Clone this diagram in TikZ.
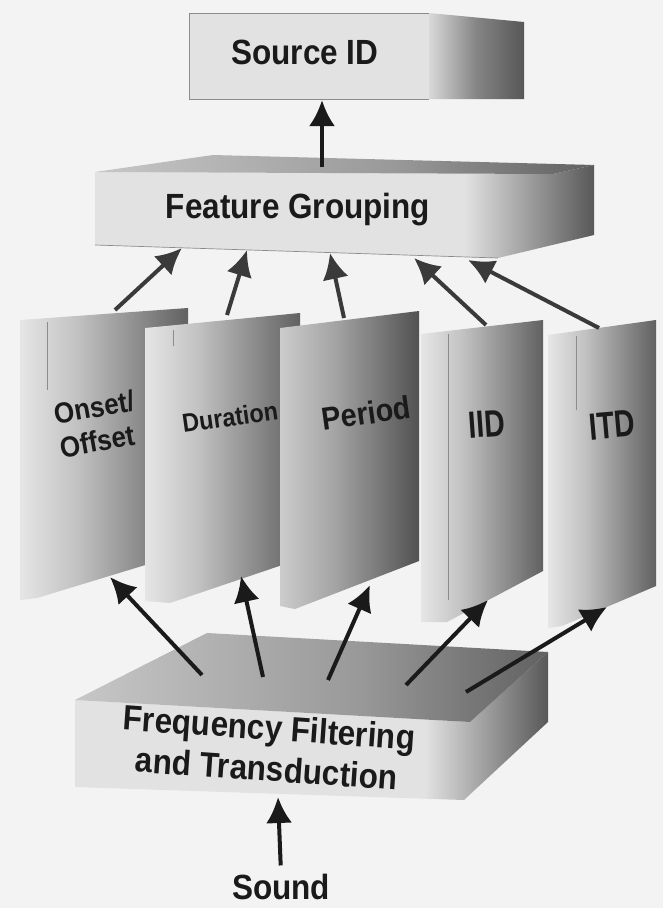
\documentclass[tikz,border=0pt]{standalone}
\usepackage{fontspec}
\setmainfont{Liberation Sans}
\newfontfamily\labelfont[FakeStretch=0.9]{Liberation Sans}
\newfontfamily\tallfont[FakeStretch=0.75]{Liberation Sans}
\usetikzlibrary{arrows.meta, calc}

\definecolor{bgGray}{RGB}{243,243,243}
\definecolor{faceLight}{RGB}{226,226,226}
\definecolor{faceDark}{RGB}{88,88,88}
\definecolor{arrowGray}{RGB}{58,58,58}
\definecolor{inkBlack}{RGB}{26,26,26}

\pgfdeclarehorizontalshading{boxFront}{100bp}{color(0bp)=(faceLight); color(25bp)=(faceLight); color(62bp)=(faceLight); color(75bp)=(faceDark); color(100bp)=(faceDark)}
\pgfdeclarehorizontalshading{sideFace}{100bp}{color(0bp)=(black!15); color(25bp)=(black!15); color(50bp)=(black!48); color(75bp)=(black!66); color(100bp)=(black!66)}
\pgfdeclarehorizontalshading{panelFace}{100bp}{color(0bp)=(black!10); color(25bp)=(black!10); color(42bp)=(black!24); color(75bp)=(black!62); color(100bp)=(black!62)}
\pgfdeclarehorizontalshading{panelDark}{100bp}{color(0bp)=(black!20); color(25bp)=(black!20); color(45bp)=(black!36); color(75bp)=(black!68); color(100bp)=(black!68)}
\pgfdeclarehorizontalshading{topFace}{100bp}{color(0bp)=(black!22); color(25bp)=(black!22); color(55bp)=(black!40); color(75bp)=(black!62); color(100bp)=(black!62)}

\tikzstyle{boxLabel}=[font={\labelfont\bfseries\fontsize{35}{41}\selectfont}, text=inkBlack, align=center, inner sep=0pt]
\tikzstyle{panelLabel}=[font={\labelfont\bfseries}, text=inkBlack, align=left, inner sep=0pt]
\tikzstyle{featArrow}=[line width=4pt, color=arrowGray, -{Latex[length=26pt,width=26pt]}]
\tikzstyle{inputArrow}=[line width=4pt, color=inkBlack, -{Latex[length=26pt,width=26pt]}]
\tikzstyle{edgeLine}=[line width=0.7pt, color=black!45]

\begin{document}
\begin{tikzpicture}[x=1pt, y=-1pt]
    \useasboundingbox (0,0) rectangle (663,908);
    \fill[bgGray] (0,0) rectangle (663,908);

    % Source ID box
    \fill[faceLight] (189,13) rectangle (429,99);
    \draw[edgeLine] (429,13) -- (189,13) -- (189,99) -- (429,99);
    \shade[shading=sideFace] (429,13) -- (524,22) -- (524,99) -- (429,99) -- cycle;
    \node[boxLabel] (srcId) at (305,52) {Source ID};

    % Feature Grouping box
    \shade[shading=boxFront] (95,172) -- (553,174) -- (594,165) -- (594,235) -- (498,258) -- (95,245) -- cycle;
    \shade[shading=topFace] (95,172) -- (213,155) -- (594,165) -- (553,174) -- cycle;
    \draw[edgeLine] (95,245) -- (498,258);
    \node[boxLabel] (featGroup) at (298,210) {Feature Grouping};

    % Feature panels
    \shade[shading=panelFace] (20,320) -- (188,308) -- (188,552) -- (37,598) -- (20,600) -- cycle;
    \draw[edgeLine] (47,322) -- (47,390);
    \node[panelLabel, font={\labelfont\bfseries\fontsize{29}{34}\selectfont}, rotate=10] (onset) at (97,424) {Onset/\\Offset};
    \shade[shading=panelFace] (145,328) -- (300,313) -- (300,559) -- (170,603) -- (145,601) -- cycle;
    \draw[edgeLine] (173,330) -- (173,346);
    \node[panelLabel, font={\labelfont\bfseries\fontsize{26}{30}\selectfont}, rotate=8] (duration) at (230,417) {Duration};
    \shade[shading=panelDark] (280,328) -- (419,311) -- (419,561) -- (295,609) -- (280,606) -- cycle;
    \node[panelLabel, font={\labelfont\bfseries\fontsize{32}{36}\selectfont}, rotate=8] (period) at (366,413) {Period};
    \shade[shading=panelFace] (421,334) -- (543,320) -- (543,571) -- (447,622) -- (421,622) -- cycle;
    \draw[edgeLine] (448,334) -- (448,600);
    \node[panelLabel, font={\tallfont\bfseries\fontsize{38}{40}\selectfont}, rotate=4] (iid) at (487,424) {IID};
    \shade[shading=panelFace] (548,335) -- (656,320) -- (656,586) -- (562,626) -- (548,628) -- cycle;
    \draw[edgeLine] (576,336) -- (576,410);
    \node[panelLabel, font={\tallfont\bfseries\fontsize{38}{40}\selectfont}, rotate=5] (itd) at (612,425) {ITD};

    % Frequency Filtering box
    \shade[shading=boxFront] (75,700) -- (470,722) -- (548,652) -- (548,722) -- (464,800) -- (75,787) -- cycle;
    \shade[shading=topFace] (75,700) -- (207,633) -- (548,652) -- (470,722) -- cycle;
    \node[boxLabel, rotate=-4] (freqFilt) at (268,748) {Frequency Filtering\\and Transduction};
    \node[boxLabel, anchor=base] (sound) at (281,899) {Sound};

    % Arrow end points
    \coordinate (srcIn) at (322,100);
    \coordinate (fgOut) at (322,167);
    \coordinate (fgIn1) at (182,248);
    \coordinate (fgIn2) at (247,250);
    \coordinate (fgIn3) at (330,253);
    \coordinate (fgIn4) at (414,258);
    \coordinate (fgIn5) at (468,260);
    \coordinate (onsetTop) at (115,310);
    \coordinate (durationTop) at (227,315);
    \coordinate (periodTop) at (344,318);
    \coordinate (iidTop) at (486,325);
    \coordinate (itdTop) at (599,328);
    \coordinate (onsetBot) at (110,577);
    \coordinate (durationBot) at (241,576);
    \coordinate (periodBot) at (370,585);
    \coordinate (iidBot) at (488,600);
    \coordinate (itdBot) at (607,607);
    \coordinate (ffOut1) at (202,675);
    \coordinate (ffOut2) at (263,677);
    \coordinate (ffOut3) at (328,680);
    \coordinate (ffOut4) at (406,685);
    \coordinate (ffOut5) at (466,692);
    \coordinate (ffIn) at (278,797);

    % Arrows
    \draw[inputArrow] (fgOut) -- (srcIn);
    \draw[featArrow] (onsetTop) -- (fgIn1);
    \draw[featArrow] (durationTop) -- (fgIn2);
    \draw[featArrow] (periodTop) -- (fgIn3);
    \draw[featArrow] (iidTop) -- (fgIn4);
    \draw[featArrow] (itdTop) -- (fgIn5);
    \draw[inputArrow] (ffOut1) -- (onsetBot);
    \draw[inputArrow] (ffOut2) -- (durationBot);
    \draw[inputArrow] (ffOut3) -- (periodBot);
    \draw[inputArrow] (ffOut4) -- (iidBot);
    \draw[inputArrow] (ffOut5) -- (itdBot);
    \draw[inputArrow, shorten <=8pt] (sound.north) -- (ffIn);

\end{tikzpicture}
\end{document}
